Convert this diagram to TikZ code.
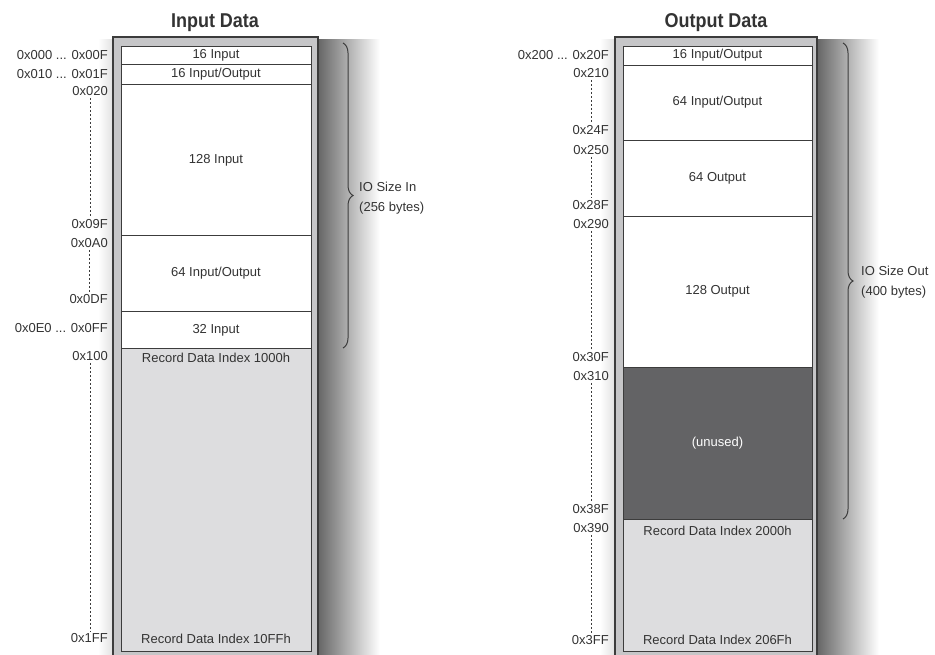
\documentclass[tikz,border=0pt]{standalone}
\usepackage{fontspec}
\setmainfont{Liberation Sans}
\newfontfamily\titlefont[FakeStretch=0.9]{Liberation Sans}
\usetikzlibrary{positioning,decorations.pathreplacing}
\definecolor{framegray}{HTML}{C6C6C8}
\definecolor{edgegray}{HTML}{3C3C3C}
\definecolor{recgray}{HTML}{DDDDDF}
\definecolor{unusedgray}{HTML}{636365}
\definecolor{txtgray}{HTML}{333333}

\begin{document}
\begin{tikzpicture}[x=1pt,y=-1pt,
  frame/.style={fill=framegray,draw=edgegray,line width=2pt},
  cell/.style={fill=white,draw=edgegray,line width=0.9pt,outer sep=0pt,anchor=north west,
    text=txtgray,font=\fontsize{13}{15}\selectfont},
  addr/.style={anchor=east,inner sep=0pt,text=txtgray,font=\fontsize{13}{15}\selectfont},
  gap/.style={draw=edgegray,line width=0.9pt,dash pattern=on 2pt off 2pt,shorten <=2pt,shorten >=2pt},
  title/.style={text=txtgray,font=\titlefont\bfseries\fontsize{20}{24}\selectfont},
  sizebrace/.style={draw=edgegray,line width=1pt,decorate,decoration={brace,amplitude=10pt}},
  sizetext/.style={anchor=west,align=left,inner sep=0pt,text=txtgray,font=\fontsize{13}{20}\selectfont}]
  \useasboundingbox (0,0) rectangle (935,655);
  \clip (0,0) rectangle (935,655);

  % Shadows
  \shade[left color=black!60,right color=white] (318,40) rectangle (380,655);
  \shade[left color=black!60,right color=white] (817,40) rectangle (879,655);
  \shade[left color=white,right color=black!12] (98,40) rectangle (113,655);
  \shade[left color=white,right color=black!12] (600,40) rectangle (615,655);

  % Input Data
  \node[title] (intitle) at (215,23) {Input Data};
  \draw[frame] (113,37) rectangle (318,680);
  \node[cell,minimum width=190pt,minimum height=18pt] (in16) at (121,46) {16 Input};
  \node[cell,minimum width=190pt,minimum height=20pt] (inio16) at (in16.south west) {16 Input/Output};
  \node[cell,minimum width=190pt,minimum height=151pt] (in128) at (inio16.south west) {128 Input};
  \node[cell,minimum width=190pt,minimum height=76pt] (inio64) at (in128.south west) {64 Input/Output};
  \node[cell,minimum width=190pt,minimum height=37pt] (in32) at (inio64.south west) {32 Input};
  \node[cell,fill=recgray,minimum width=190pt,minimum height=303pt] (inrec) at (in32.south west) {};
  \node[text=txtgray,font=\fontsize{13}{15}\selectfont] (inrecA) at ([yshift=-9pt]inrec.north) {Record Data Index 1000h};
  \node[text=txtgray,font=\fontsize{13}{15}\selectfont] (inrecB) at ([yshift=13pt]inrec.south) {Record Data Index 10FFh};

  \node[addr] (a000) at (108,55) {0x000 ... 0x00F};
  \node[addr] (a010) at (108,74) {0x010 ... 0x01F};
  \node[addr] (a020) at (108,91) {0x020};
  \node[addr] (a09F) at (108,224) {0x09F};
  \node[addr] (a0A0) at (108,243) {0x0A0};
  \node[addr] (a0DF) at (108,299) {0x0DF};
  \node[addr] (a0E0) at (108,328) {0x0E0 ... 0x0FF};
  \node[addr] (a100) at (108,356) {0x100};
  \node[addr] (a1FF) at (108,638) {0x1FF};
  \draw[gap] (a020.south) -- (a020.south |- a09F.north);
  \draw[gap] (a0A0.south) -- (a0A0.south |- a0DF.north);
  \draw[gap] (a100.south) -- (a100.south |- a1FF.north);

  \coordinate (inTop) at (343,43);
  \coordinate (inBot) at (343,348);
  \draw[sizebrace] (inTop) -- (inBot);
  \node[sizetext] (insize) at (359,198) {IO Size In\\(256 bytes)};

  % Output Data
  \node[title] (outtitle) at (716,23) {Output Data};
  \draw[frame] (615,37) rectangle (817,680);
  \node[cell,minimum width=189pt,minimum height=19pt] (outio16) at (623,46) {16 Input/Output};
  \node[cell,minimum width=189pt,minimum height=75pt] (outio64) at (outio16.south west) {64 Input/Output};
  \node[cell,minimum width=189pt,minimum height=76pt] (out64) at (outio64.south west) {64 Output};
  \node[cell,minimum width=189pt,minimum height=151pt] (out128) at (out64.south west) {128 Output};
  \node[cell,fill=unusedgray,text=white,minimum width=189pt,minimum height=152pt] (unused) at (out128.south west) {(unused)};
  \node[cell,fill=recgray,minimum width=189pt,minimum height=132pt] (outrec) at (unused.south west) {};
  \node[text=txtgray,font=\fontsize{13}{15}\selectfont] (outrecA) at ([yshift=-12pt]outrec.north) {Record Data Index 2000h};
  \node[text=txtgray,font=\fontsize{13}{15}\selectfont] (outrecB) at ([yshift=11pt]outrec.south) {Record Data Index 206Fh};

  \node[addr] (b200) at (609,55) {0x200 ... 0x20F};
  \node[addr] (b210) at (609,73) {0x210};
  \node[addr] (b24F) at (609,130) {0x24F};
  \node[addr] (b250) at (609,150) {0x250};
  \node[addr] (b28F) at (609,205) {0x28F};
  \node[addr] (b290) at (609,224) {0x290};
  \node[addr] (b30F) at (609,357) {0x30F};
  \node[addr] (b310) at (609,376) {0x310};
  \node[addr] (b38F) at (609,509) {0x38F};
  \node[addr] (b390) at (609,528) {0x390};
  \node[addr] (b3FF) at (609,640) {0x3FF};
  \draw[gap] (b210.south) -- (b210.south |- b24F.north);
  \draw[gap] (b250.south) -- (b250.south |- b28F.north);
  \draw[gap] (b290.south) -- (b290.south |- b30F.north);
  \draw[gap] (b310.south) -- (b310.south |- b38F.north);
  \draw[gap] (b390.south) -- (b390.south |- b3FF.north);

  \coordinate (outTop) at (843,43);
  \coordinate (outBot) at (843,519);
  \draw[sizebrace] (outTop) -- (outBot);
  \node[sizetext] (outsize) at (861,282) {IO Size Out\\(400 bytes)};

\end{tikzpicture}
\end{document}
